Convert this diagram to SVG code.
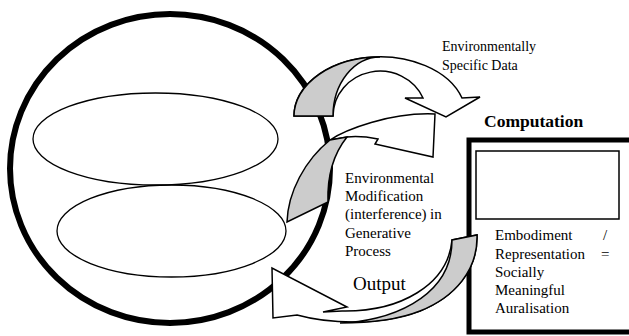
<svg xmlns="http://www.w3.org/2000/svg" width="629" height="336" viewBox="0 0 629 336">
<style>
.t{font-size:15px}
.sm{font-size:14px}
.ln{fill:none;stroke:#000;stroke-width:1.3}
.wf{fill:#fff;stroke:#000;stroke-width:1.5;stroke-linejoin:miter}
.gf{fill:#cccccc;stroke:#000;stroke-width:1.5}
</style>
<rect width="629" height="336" fill="#fff"/>
<g id="world">
<ellipse cx="170" cy="168.5" rx="160" ry="154.5" fill="none" stroke="#000" stroke-width="6"/>
<ellipse cx="155.5" cy="139" rx="122.5" ry="46" class="ln"/>
<ellipse cx="171.5" cy="231" rx="114.5" ry="46" class="ln"/>
</g>
<g id="computation" font-family="Liberation Serif, DejaVu Serif, serif">
<text x="484" y="127" font-size="17.5" font-weight="bold">Computation</text>
<rect x="469" y="140" width="175" height="192" fill="none" stroke="#000" stroke-width="5"/>
<rect x="476" y="151" width="143" height="68" fill="none" stroke="#000" stroke-width="1.5"/>
<text class="t" x="495" y="240">Embodiment <tspan x="603">/</tspan></text>
<text class="t" x="495" y="259">Representation <tspan x="601">=</tspan></text>
<text class="t" x="495" y="277">Socially</text>
<text class="t" x="495" y="295">Meaningful</text>
<text class="t" x="495" y="313">Auralisation</text>
</g>
<g id="connectors">
<g id="arrow-data">
<path class="wf" d="M294,116 A86,59 0 0 1 462,98 L480,97 L446,117 L405,98 L423,98 A47,45 0 0 0 333,116 Z"/>
<path class="gf" d="M294,116 A86,59 0 0 1 380,57 A47,59 0 0 0 333,116 Z"/>
</g>
<g id="arrow-modification">
<path class="wf" d="M330,140 C345,130 390,112 435,114 L433,157 L375,144 L378,139 C368,137 356,136 347,137 Z"/>
<path class="gf" d="M287,222 C288,192 305,160 330,140 L347,137 C335,152 327,172 328,202 Z"/>
</g>
<g id="arrow-output">
<path class="wf" d="M452,240 C448,285 400,312 342,311 L323,312 L347,307 L272,268 L273,318 L297,315 C330,324 380,326 420,311 C455,297 478,270 477,235 Z"/>
<path class="gf" d="M452,240 L477,235 C478,270 455,297 420,311 C400,319 370,323 340,323 C385,322 452,300 452,240 Z"/>
</g>
</g>
<g id="labels" font-family="Liberation Serif, DejaVu Serif, serif">
<text class="sm" x="442" y="51">Environmentally</text>
<text class="sm" x="442" y="70">Specific Data</text>
<text class="t" x="345" y="183">Environmental</text>
<text class="t" x="345" y="201">Modification</text>
<text class="t" x="345" y="219">(interference) <tspan x="430">in</tspan></text>
<text class="t" x="345" y="238">Generative</text>
<text class="t" x="345" y="256">Process</text>
<text x="353" y="290" font-size="19">Output</text>
</g>
</svg>
